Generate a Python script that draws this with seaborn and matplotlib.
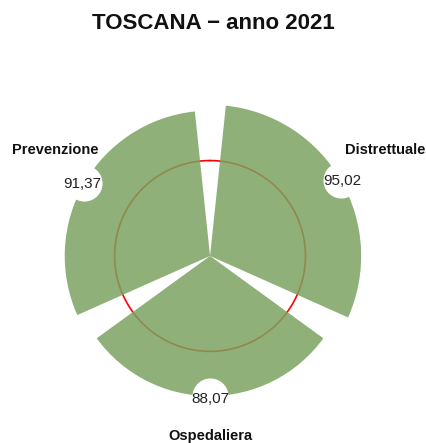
"""
Toscana 2021 - polar bar chart of the three LEA areas
"""

import numpy as np
import matplotlib.pyplot as plt
import seaborn as sns

sns.set_style("white")
plt.rcParams["font.family"] = ["Liberation Sans", "DejaVu Sans"]

TITLE = "TOSCANA \u2212 anno 2021"

categories = ["Distrettuale", "Ospedaliera", "Prevenzione"]
values = [95.02, 88.07, 91.37]
value_labels = ["95,02", "88,07", "91,37"]
threshold = 60

bar_color = "#7ba260"
line_color = "#ff0000"

# label placement (angle in degrees from north, radius in data units)
cat_pos = [(58.8, 129), (180, 113), (-55.6, 118)]

########################################################

fig = plt.figure(figsize=(4.27, 4.43), dpi=100)

ax = fig.add_axes([0.1194, 0.0632, 0.745, 0.718], projection="polar")

ax.set_theta_zero_location("N")
ax.set_theta_direction(-1)

n = len(categories)
theta = np.arange(n) * 2 * np.pi / n + np.pi / 3
width = np.deg2rad(108)

circle = np.linspace(0, 2 * np.pi, 400)
ax.plot(circle, [threshold] * len(circle), color=line_color, lw=1.2, zorder=1)

ax.bar(
    theta,
    values,
    width=width,
    color=bar_color,
    alpha=0.85,
    edgecolor="none",
    zorder=2
)

ax.plot(theta, values, "o", ms=26, color="white", mec="none",
        clip_on=False, zorder=3)

for t, v, lab in zip(theta, values, value_labels):
    ax.text(t, v + 1.2, lab, ha="center", va="center_baseline",
            fontsize=11, color="#222222", zorder=4)

for (ang, r), cat in zip(cat_pos, categories):
    ax.text(np.deg2rad(ang), r, cat, ha="center", va="center",
            fontsize=10.5, fontweight="bold", color="#111111")

ax.set_ylim(0, 100)
ax.set_xticks([])
ax.set_yticks([])
ax.grid(False)
ax.spines["polar"].set_visible(False)
ax.set_facecolor("none")
ax.patch.set_visible(False)

fig.text(0.5, 0.948, TITLE, ha="center", va="center",
         fontsize=16, fontweight="bold", color="#111111")

fig.savefig("out.png", dpi=100)
plt.close(fig)
